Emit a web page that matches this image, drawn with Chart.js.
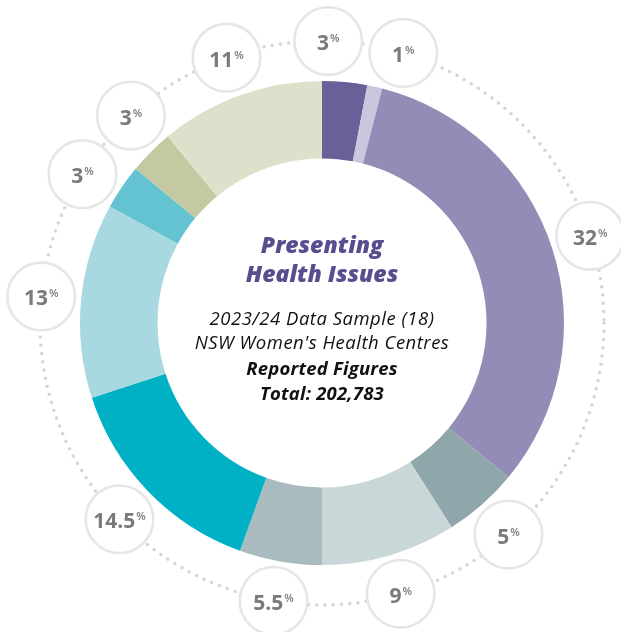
<!DOCTYPE html>
<html>
<head>
<meta charset="utf-8">
<script src="https://cdn.jsdelivr.net/npm/chart.js@4/dist/chart.umd.min.js"></script>
<style>
html,body{margin:0;padding:0;background:#fff;}
#wrap{width:621px;height:632px;}
</style>
</head>
<body>
<div id="wrap"><canvas id="c" width="621" height="632"></canvas></div>
<script>
// ---- data ----
const categories = ['Segment A','Segment B','Segment C','Segment D','Segment E','Segment F','Segment G','Segment H','Segment I','Segment J','Segment K'];
const shares = [3, 1, 32, 5, 9, 5.5, 14.5, 13, 3, 3, 11];
const valueLabels = ['3','1','32','5','9','5.5','14.5','13','3','3','11'];
const colors = ['#6b5f99','#cbc6de','#938cb7','#8fa6ab','#cad7d9','#a9bbbf','#00b0c4','#a9d9e0','#64c3d1','#c5c9a1','#dfe0cb'];
const titleLines = ['Presenting','Health Issues'];
const subLines = ["2023/24 Data Sample (18)","NSW Women's Health Centres"];
const boldLines = ['Reported Figures','Total: 202,783'];

const ringPlugin = {
  id: 'ringLabels',
  afterDatasetsDraw(chart) {
    const ctx = chart.ctx;
    const meta = chart.getDatasetMeta(0);
    const a0 = meta.data[0];
    const cx = a0.x, cy = a0.y, R = a0.outerRadius;
    const ringR = R + 40;
    // dotted ring
    ctx.save();
    ctx.strokeStyle = '#d6d6d6';
    ctx.lineWidth = 3.6;
    ctx.lineCap = 'round';
    ctx.setLineDash([0, 8.3]);
    ctx.beginPath();
    ctx.arc(cx, cy, ringR, 0, Math.PI * 2);
    ctx.stroke();
    ctx.restore();
    // label angles (mid-angle, relaxed to avoid overlaps)
    let angs = meta.data.map(a => (a.startAngle + a.endAngle) / 2);
    const minSep = 15.5 * Math.PI / 180;
    for (let it = 0; it < 50; it++) {
      for (let i = 0; i < angs.length; i++) {
        const j = (i + 1) % angs.length;
        let d = angs[j] - angs[i];
        if (j === 0) d += Math.PI * 2;
        if (d < minSep) {
          const p = (minSep - d) / 2;
          angs[i] -= p; angs[j] += p;
        }
      }
    }
    const cr = 33.8;
    angs.forEach((ang, i) => {
      const x = cx + ringR * Math.cos(ang);
      const y = cy + ringR * Math.sin(ang);
      ctx.save();
      ctx.beginPath();
      ctx.arc(x, y, cr, 0, Math.PI * 2);
      ctx.fillStyle = '#fff';
      ctx.fill();
      ctx.lineWidth = 2.6;
      ctx.strokeStyle = '#e6e6e6';
      ctx.stroke();
      const num = valueLabels[i];
      ctx.font = 'bold 21px "Open Sans"';
      const wN = ctx.measureText(num).width;
      ctx.font = '600 11px "Open Sans"';
      const wP = ctx.measureText('%').width;
      const sx = x - (wN + wP + 1) / 2;
      ctx.fillStyle = '#7a7a7e';
      ctx.textBaseline = 'alphabetic';
      ctx.textAlign = 'left';
      ctx.font = 'bold 21px "Open Sans"';
      ctx.fillText(num, sx, y + 9);
      ctx.font = '600 11px "Open Sans"';
      ctx.fillText('%', sx + wN + 1, y + 1);
      ctx.restore();
    });
    // center text
    ctx.save();
    ctx.textAlign = 'center';
    ctx.textBaseline = 'middle';
    ctx.fillStyle = '#5a4d8f';
    ctx.font = 'italic 800 23px "Open Sans"';
    ctx.fillText(titleLines[0], cx, cy - 77);
    ctx.fillText(titleLines[1], cx, cy - 48);
    ctx.fillStyle = '#111';
    ctx.letterSpacing = '0.5px';
    ctx.font = 'italic 18.5px "Open Sans"';
    ctx.fillText(subLines[0], cx, cy - 3);
    ctx.fillText(subLines[1], cx, cy + 21);
    ctx.letterSpacing = '0.2px';
    ctx.font = 'italic bold 18.5px "Open Sans"';
    ctx.fillText(boldLines[0], cx, cy + 47);
    ctx.fillText(boldLines[1], cx, cy + 72);
    ctx.restore();
  }
};

new Chart(document.getElementById('c'), {
  type: 'doughnut',
  data: {
    labels: categories,
    datasets: [{ data: shares, backgroundColor: colors, borderWidth: 0 }]
  },
  options: {
    responsive: false,
    animation: false,
    cutout: '68%',
    layout: { padding: { left: 80, right: 57, top: 81, bottom: 67 } },
    plugins: { legend: { display: false }, tooltip: { enabled: false } }
  },
  plugins: [ringPlugin]
});
</script>
</body>
</html>
